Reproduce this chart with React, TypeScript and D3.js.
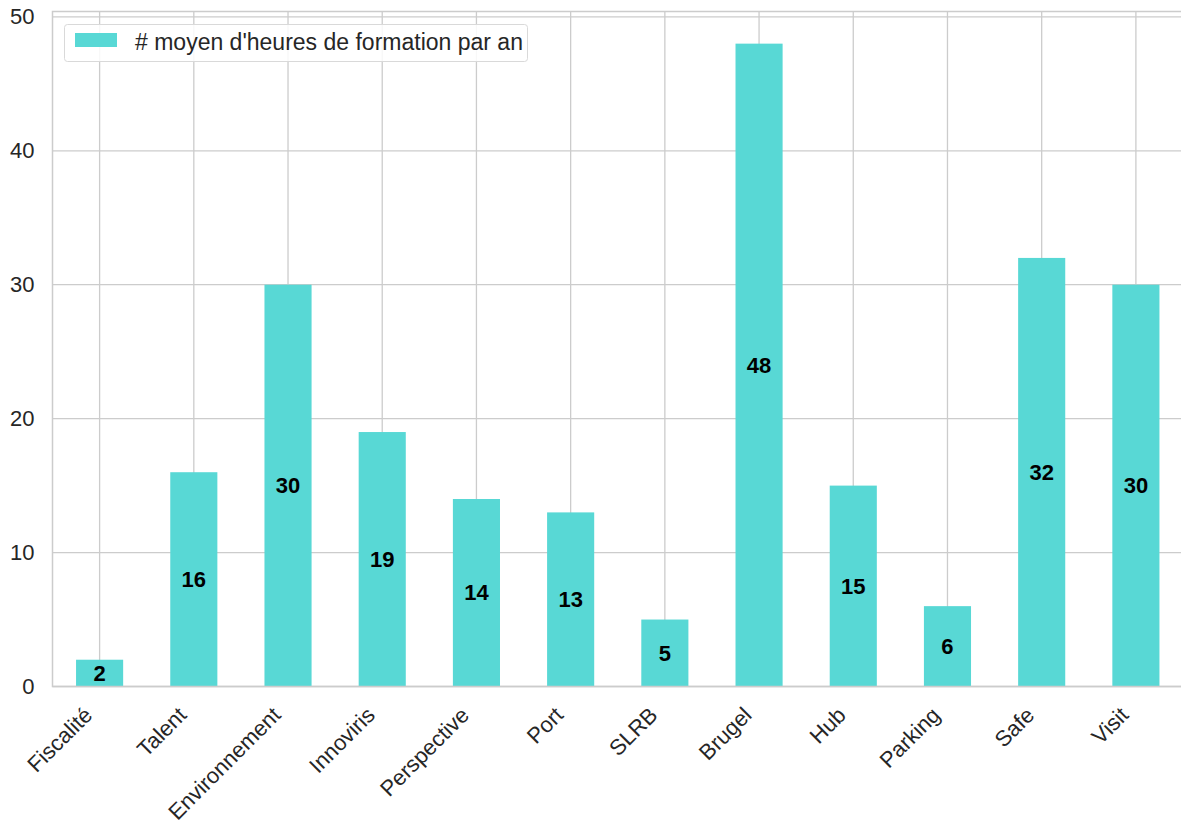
import React from "react";
import * as d3 from "d3";

const categories = ["Fiscalité", "Talent", "Environnement", "Innoviris", "Perspective", "Port", "SLRB", "Brugel", "Hub", "Parking", "Safe", "Visit"];
const values = [2, 16, 30, 19, 14, 13, 5, 48, 15, 6, 32, 30];
const yTicks = [0, 10, 20, 30, 40, 50];
const legendLabel = "# moyen d'heures de formation par an";

const W = 1181;
const H = 825;
const left = 52.5;
const right = 1183;
const top = 11.5;
const bottom = 686.5;
const barColor = "#58d8d5";
const gridColor = "#cccccc";
const font = "'Liberation Sans', Arial, sans-serif";

export default function App() {
  const x = d3.scaleLinear().domain([-0.5, categories.length - 0.5]).range([left, right]);
  const y = d3.scaleLinear().domain([0, 50.4]).range([bottom, top]);
  const bw = x(0.25) - x(0);

  return (
    <svg width={W} height={H} style={{ position: "absolute", left: 0, top: 0 }} fontFamily={font}>
      <rect x={0} y={0} width={W} height={H} fill="#fff" />
      {yTicks.map((t) => (
        <line key={"gy" + t} x1={left} x2={right} y1={y(t)} y2={y(t)} stroke={gridColor} strokeWidth={1.3} />
      ))}
      {categories.map((c, i) => (
        <line key={"gx" + c} x1={x(i)} x2={x(i)} y1={top} y2={bottom} stroke={gridColor} strokeWidth={1.3} />
      ))}
      {values.map((v, i) => (
        <rect key={"b" + i} x={x(i) - bw} width={bw * 2} y={y(v)} height={y(0) - y(v)} fill={barColor} />
      ))}
      <rect x={left} y={top} width={right - left} height={bottom - top} fill="none" stroke={gridColor} strokeWidth={1.5} />
      {values.map((v, i) => (
        <text key={"l" + i} x={x(i)} y={y(v / 2)} textAnchor="middle" dominantBaseline="central" fontWeight="bold" fontSize={22} fill="#000">
          {v}
        </text>
      ))}
      {yTicks.map((t) => (
        <text key={"yt" + t} x={left - 18} y={y(t)} textAnchor="end" dominantBaseline="central" fontSize={22} fill="#262626">
          {t}
        </text>
      ))}
      {categories.map((c, i) => (
        <text key={"xt" + c} transform={`translate(${x(i) - 6},${bottom + 30}) rotate(-45)`} textAnchor="end" fontSize={22} fill="#262626">
          {c}
        </text>
      ))}
      <g>
        <rect x={64.5} y={24.5} width={463} height={37} rx={3} fill="#fff" fillOpacity={0.85} stroke="#d9d9d9" strokeWidth={1} />
        <rect x={75} y={33} width={42} height={14} fill={barColor} />
        <text x={135} y={42} dominantBaseline="central" fontSize={23} fill="#262626">
          {legendLabel}
        </text>
      </g>
    </svg>
  );
}
